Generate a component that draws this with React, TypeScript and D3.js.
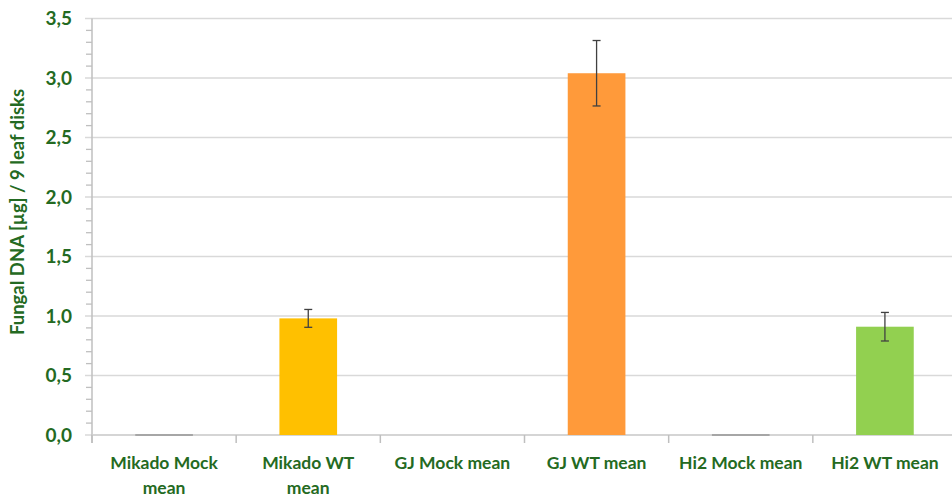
import React from "react";
import * as d3 from "d3";

const categories = [
  ["Mikado Mock", "mean"],
  ["Mikado WT", "mean"],
  ["GJ Mock mean"],
  ["GJ WT mean"],
  ["Hi2 Mock mean"],
  ["Hi2 WT mean"],
];
const values = [0.004, 0.98, 0, 3.04, 0.004, 0.91];
const errors = [0, 0.075, 0, 0.275, 0, 0.12];
const colors = ["#A6A6A6", "#FFC000", "#A6A6A6", "#FF9A3A", "#A6A6A6", "#92D050"];
const majorTicks = [0, 0.5, 1, 1.5, 2, 2.5, 3, 3.5];
const yTitle = "Fungal DNA [µg] / 9 leaf disks";

const W = 952;
const H = 497;
const left = 92;
const right = 957;
const top = 18.5;
const bottom = 435;
const textColor = "#246A22";
const font = "Lato, 'Open Sans', sans-serif";

export default function App() {
  const x = d3
    .scaleBand<number>()
    .domain(d3.range(categories.length))
    .range([left, right])
    .paddingInner(0.6)
    .paddingOuter(0.3);
  const step = x.step();
  const y = d3.scaleLinear().domain([0, 3.5]).range([bottom, top]);
  const minor = d3.range(0, 3.5001, 0.1).filter((v) => Math.abs(v * 2 - Math.round(v * 2)) > 1e-6);
  const fmt = (v: number) => v.toFixed(1).replace(".", ",");

  return (
    <svg
      width={W}
      height={H}
      style={{ position: "absolute", left: 0, top: 0, background: "#fff" }}
      fontFamily={font}
    >
      {majorTicks.map((t) => (
        <line key={"g" + t} x1={left - 7} x2={right} y1={y(t)} y2={y(t)} stroke="#D9D9D9" strokeWidth={1.5} />
      ))}
      {minor.map((t) => (
        <line key={"m" + t} x1={left - 6} x2={left} y1={y(t)} y2={y(t)} stroke="#BFBFBF" strokeWidth={1.3} />
      ))}
      <line x1={left} x2={left} y1={top} y2={bottom + 8} stroke="#BFBFBF" strokeWidth={1.5} />
      <line x1={left} x2={right} y1={bottom} y2={bottom} stroke="#D0D0D0" strokeWidth={1.5} />
      {d3.range(categories.length + 1).map((i) => (
        <line key={"ct" + i} x1={left + i * step} x2={left + i * step} y1={bottom} y2={bottom + 8} stroke="#BFBFBF" strokeWidth={1.5} />
      ))}
      {values.map((v, i) => {
        const h = Math.max(0, bottom - y(v));
        if (v === 0) return null;
        return (
          <rect
            key={"b" + i}
            x={x(i)}
            y={h < 2 ? bottom - 1 : y(v)}
            width={x.bandwidth()}
            height={h < 2 ? 2 : h}
            fill={colors[i]}
          />
        );
      })}
      {values.map((v, i) => {
        if (!errors[i]) return null;
        const cx = (x(i) as number) + x.bandwidth() / 2;
        return (
          <g key={"e" + i} stroke="#404040" strokeWidth={1.3}>
            <line x1={cx} x2={cx} y1={y(v + errors[i])} y2={y(v - errors[i])} />
            <line x1={cx - 4} x2={cx + 4} y1={y(v + errors[i])} y2={y(v + errors[i])} />
            <line x1={cx - 4} x2={cx + 4} y1={y(v - errors[i])} y2={y(v - errors[i])} />
          </g>
        );
      })}
      {majorTicks.map((t) => (
        <text
          key={"yl" + t}
          x={left - 20}
          y={y(t)}
          dy="0.35em"
          textAnchor="end"
          fontSize={19}
          fontWeight={700}
          fill={textColor}
        >
          {fmt(t)}
        </text>
      ))}
      {categories.map((lines, i) => (
        <text
          key={"cl" + i}
          x={left + (i + 0.5) * step}
          textAnchor="middle"
          fontSize={17.5}
          fontWeight={700}
          fill={textColor}
        >
          {lines.map((l, j) => (
            <tspan key={j} x={left + (i + 0.5) * step} y={469 + j * 25}>
              {l}
            </tspan>
          ))}
        </text>
      ))}
      <text
        transform={`translate(24,${212}) rotate(-90)`}
        textAnchor="middle"
        fontSize={18.5}
        fontWeight={700}
        fill={textColor}
      >
        {yTitle}
      </text>
    </svg>
  );
}
